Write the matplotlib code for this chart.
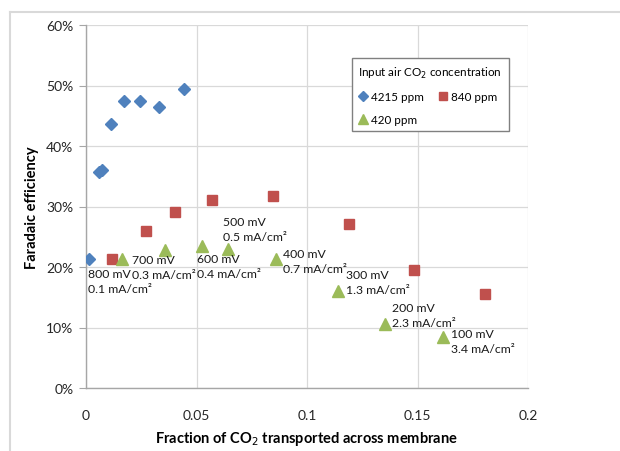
import matplotlib
matplotlib.use("Agg")
import matplotlib.pyplot as plt
from matplotlib.lines import Line2D
from matplotlib.ticker import FuncFormatter, MultipleLocator

plt.rcParams['font.family'] = ['Lato', 'DejaVu Sans']

# Data
x_4215 = [0.0014, 0.0059, 0.0072, 0.0113, 0.0172, 0.0244, 0.0330, 0.0442]
y_4215 = [0.213, 0.357, 0.360, 0.436, 0.474, 0.474, 0.464, 0.494]

x_840 = [0.0117, 0.0271, 0.0402, 0.0569, 0.0844, 0.1190, 0.1485, 0.1806]
y_840 = [0.213, 0.259, 0.291, 0.311, 0.317, 0.271, 0.195, 0.155]

x_420 = [0.0163, 0.0357, 0.0524, 0.0641, 0.0858, 0.1142, 0.1354, 0.1616]
y_420 = [0.213, 0.228, 0.235, 0.230, 0.213, 0.160, 0.106, 0.084]

voltage_labels = ["800 mV", "700 mV", "600 mV", "500 mV", "400 mV", "300 mV", "200 mV", "100 mV"]
current_labels = ["0.1 mA/cm²", "0.3 mA/cm²", "0.4 mA/cm²", "0.5 mA/cm²",
                  "0.7 mA/cm²", "1.3 mA/cm²", "2.3 mA/cm²", "3.4 mA/cm²"]
# offsets (pixels) of the first label line from its point
label_offsets = [(-34, -14.5), (-33, -9), (-5, -13), (-5, 27),
                 (7, 6), (8, 17), (7, 16), (8, 4)]

legend_title = "Input air CO$_2$ concentration"
series_names = ["4215 ppm", "840 ppm", "420 ppm"]

fig = plt.figure(figsize=(6.2, 4.52), dpi=100)
ax = fig.add_axes([86/620, 1-389/452, (528-86)/620, (389-26)/452])

blue, red, green = "#4F81BD", "#C0504D", "#9BBB59"
h1, = ax.plot(x_4215, y_4215, ls='none', marker='D', ms=6.2, color=blue, label=series_names[0], zorder=3)
h2, = ax.plot(x_840, y_840, ls='none', marker='s', ms=7.5, color=red, label=series_names[1], zorder=3)
h3, = ax.plot(x_420, y_420, ls='none', marker='^', ms=8.5, color=green, label=series_names[2], zorder=3)

for xi, yi, l1, l2, (dx, dy) in zip(x_420, y_420, voltage_labels, current_labels, label_offsets):
    ax.annotate(l1, xy=(xi, yi), xytext=(dx, dy), textcoords='offset pixels',
                ha='left', va='center', fontsize=8.8, color='#1a1a1a')
    ax.annotate(l2, xy=(xi, yi), xytext=(dx, dy - 15), textcoords='offset pixels',
                ha='left', va='center', fontsize=8.8, color='#1a1a1a')

ax.set_xlim(0, 0.2)
ax.set_ylim(0, 0.6)
ax.xaxis.set_major_locator(MultipleLocator(0.05))
ax.yaxis.set_major_locator(MultipleLocator(0.1))
ax.xaxis.set_major_formatter(FuncFormatter(lambda v, p: "0" if abs(v) < 1e-9 else f"{v:g}"))
ax.yaxis.set_major_formatter(FuncFormatter(lambda v, p: f"{v*100:.0f}%"))
ax.grid(True, color='#D9D9D9', lw=0.9)
ax.set_axisbelow(True)
for s in ['top', 'right']:
    ax.spines[s].set_visible(False)
for s in ['left', 'bottom']:
    ax.spines[s].set_color('#A6A6A6')
    ax.spines[s].set_linewidth(1.0)
ax.tick_params(axis='y', length=5, color='#A6A6A6', labelsize=10, labelcolor='#262626', pad=4)
ax.tick_params(axis='x', length=0, labelsize=10, labelcolor='#262626', pad=15)

ax.set_xlabel("Fraction of CO$_2$ transported across membrane", fontsize=10.5, fontweight='bold', labelpad=6)
ax.set_ylabel("Faradaic efficiency", fontsize=10.5, fontweight='bold', labelpad=5)

leg = ax.legend(handles=[h1, h3, h2], ncol=2, title=legend_title, loc='upper left',
                bbox_to_anchor=((352-86)/442, 1-(59-26)/363), borderaxespad=0, fancybox=False,
                edgecolor='#808080', framealpha=1, fontsize=8.4, title_fontsize=8.4,
                handlelength=0.8, handletextpad=0.3, columnspacing=1.2, borderpad=0.55,
                labelspacing=1.0, markerscale=0.8)
leg._legend_box.align = "left"
leg.get_frame().set_linewidth(1.0)

# outer chart border (left and top visible)
fig.add_artist(Line2D([10/620, 10/620], [0, 1-13/452], color='#D9D9D9', lw=1.5, transform=fig.transFigure))
fig.add_artist(Line2D([10/620, 1], [1-13/452, 1-13/452], color='#D9D9D9', lw=1.5, transform=fig.transFigure))

fig.savefig("out.png", dpi=100)
